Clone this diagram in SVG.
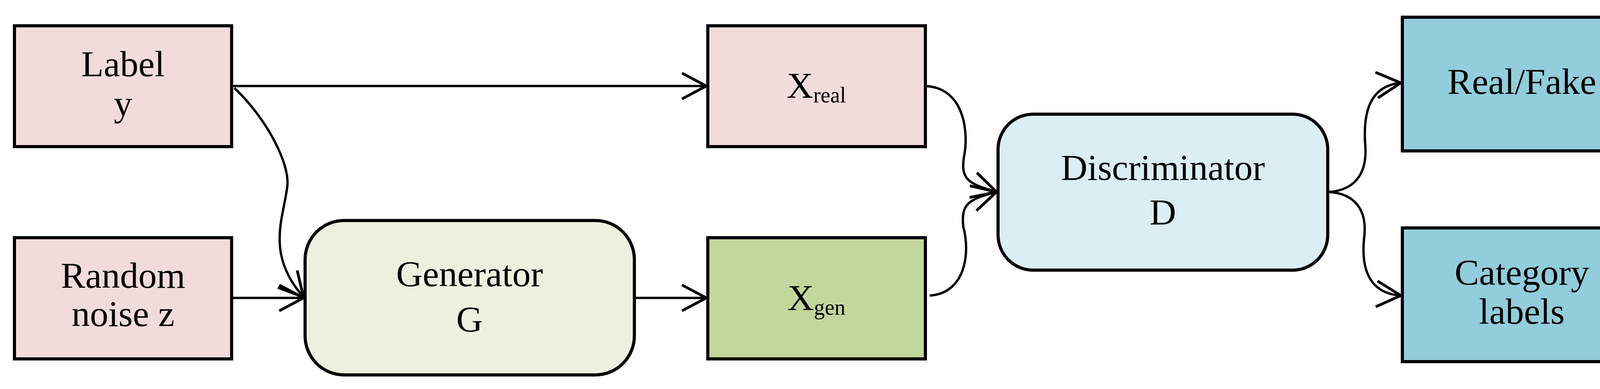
<svg xmlns="http://www.w3.org/2000/svg" width="4243" height="995" viewBox="0 0 4243 995">
<style>
.b{stroke:#000;stroke-width:8}
.t{font-family:"Liberation Serif",serif;font-size:94px;text-anchor:middle;fill:#000}
.c{fill:none;stroke:#000;stroke-width:6}
</style>
<defs>
<marker id="a" viewBox="-70 -40 80 80" markerWidth="80" markerHeight="80" refX="0" refY="0" markerUnits="userSpaceOnUse" orient="auto">
<path d="M-62,-33 L0,0 L-62,33" fill="none" stroke="#000" stroke-width="7"/>
</marker>
</defs>
<rect width="4243" height="995" fill="#fff"/>
<g id="connectors">
<path class="c" d="M593,220 H1808" marker-end="url(#a)"/>
<path class="c" d="M593,762 H777" marker-end="url(#a)"/>
<path class="c" d="M1624,762 H1808" marker-end="url(#a)"/>
<path class="c" d="M600,225 C680,300 745,420 735,480 C725,560 680,650 777,760" marker-end="url(#a)"/>
<path class="c" d="M2369,220 C2470,225 2480,340 2468,400 C2458,460 2480,470 2551,491" marker-end="url(#a)"/>
<path class="c" d="M2380,756 C2470,750 2485,650 2466,580 C2460,520 2480,510 2551,491" marker-end="url(#a)"/>
<path class="c" d="M3403,491 C3480,485 3500,430 3495,370 C3490,300 3500,220 3586,212" marker-end="url(#a)"/>
<path class="c" d="M3403,491 C3480,497 3500,550 3492,610 C3485,680 3500,750 3586,756" marker-end="url(#a)"/>
</g>
<g id="label"><rect class="b" x="37" y="66" width="556" height="309" fill="#f2dcdb"/>
<text class="t" x="315" y="195">Label</text><text class="t" x="315" y="296">y</text></g>
<g id="noise"><rect class="b" x="37" y="608" width="556" height="310" fill="#f2dcdb"/>
<text class="t" x="315" y="736">Random</text><text class="t" x="315" y="834">noise z</text></g>
<g id="generator"><rect class="b" x="781" y="564" width="843" height="395" rx="100" fill="#ebf1de"/>
<text class="t" x="1202" y="732">Generator</text><text class="t" x="1202" y="848">G</text></g>
<g id="xreal"><rect class="b" x="1812" y="66" width="557" height="309" fill="#f2dcdb"/>
<text class="t" x="2090" y="250">X<tspan font-size="56" dy="12">real</tspan></text></g>
<g id="xgen"><rect class="b" x="1812" y="608" width="557" height="310" fill="#c3d69b"/>
<text class="t" x="2090" y="793">X<tspan font-size="56" dy="12">gen</tspan></text></g>
<g id="discriminator"><rect class="b" x="2555" y="292" width="844" height="399" rx="90" fill="#dbeef4"/>
<text class="t" x="2977" y="460">Discriminator</text><text class="t" x="2977" y="574">D</text></g>
<g id="realfake"><rect class="b" x="3590" y="44" width="612" height="342" fill="#92cddc"/>
<text class="t" x="3896" y="240">Real/Fake</text></g>
<g id="category"><rect class="b" x="3590" y="583" width="612" height="342" fill="#92cddc"/>
<text class="t" x="3896" y="728">Category</text><text class="t" x="3896" y="828">labels</text></g>
</svg>
